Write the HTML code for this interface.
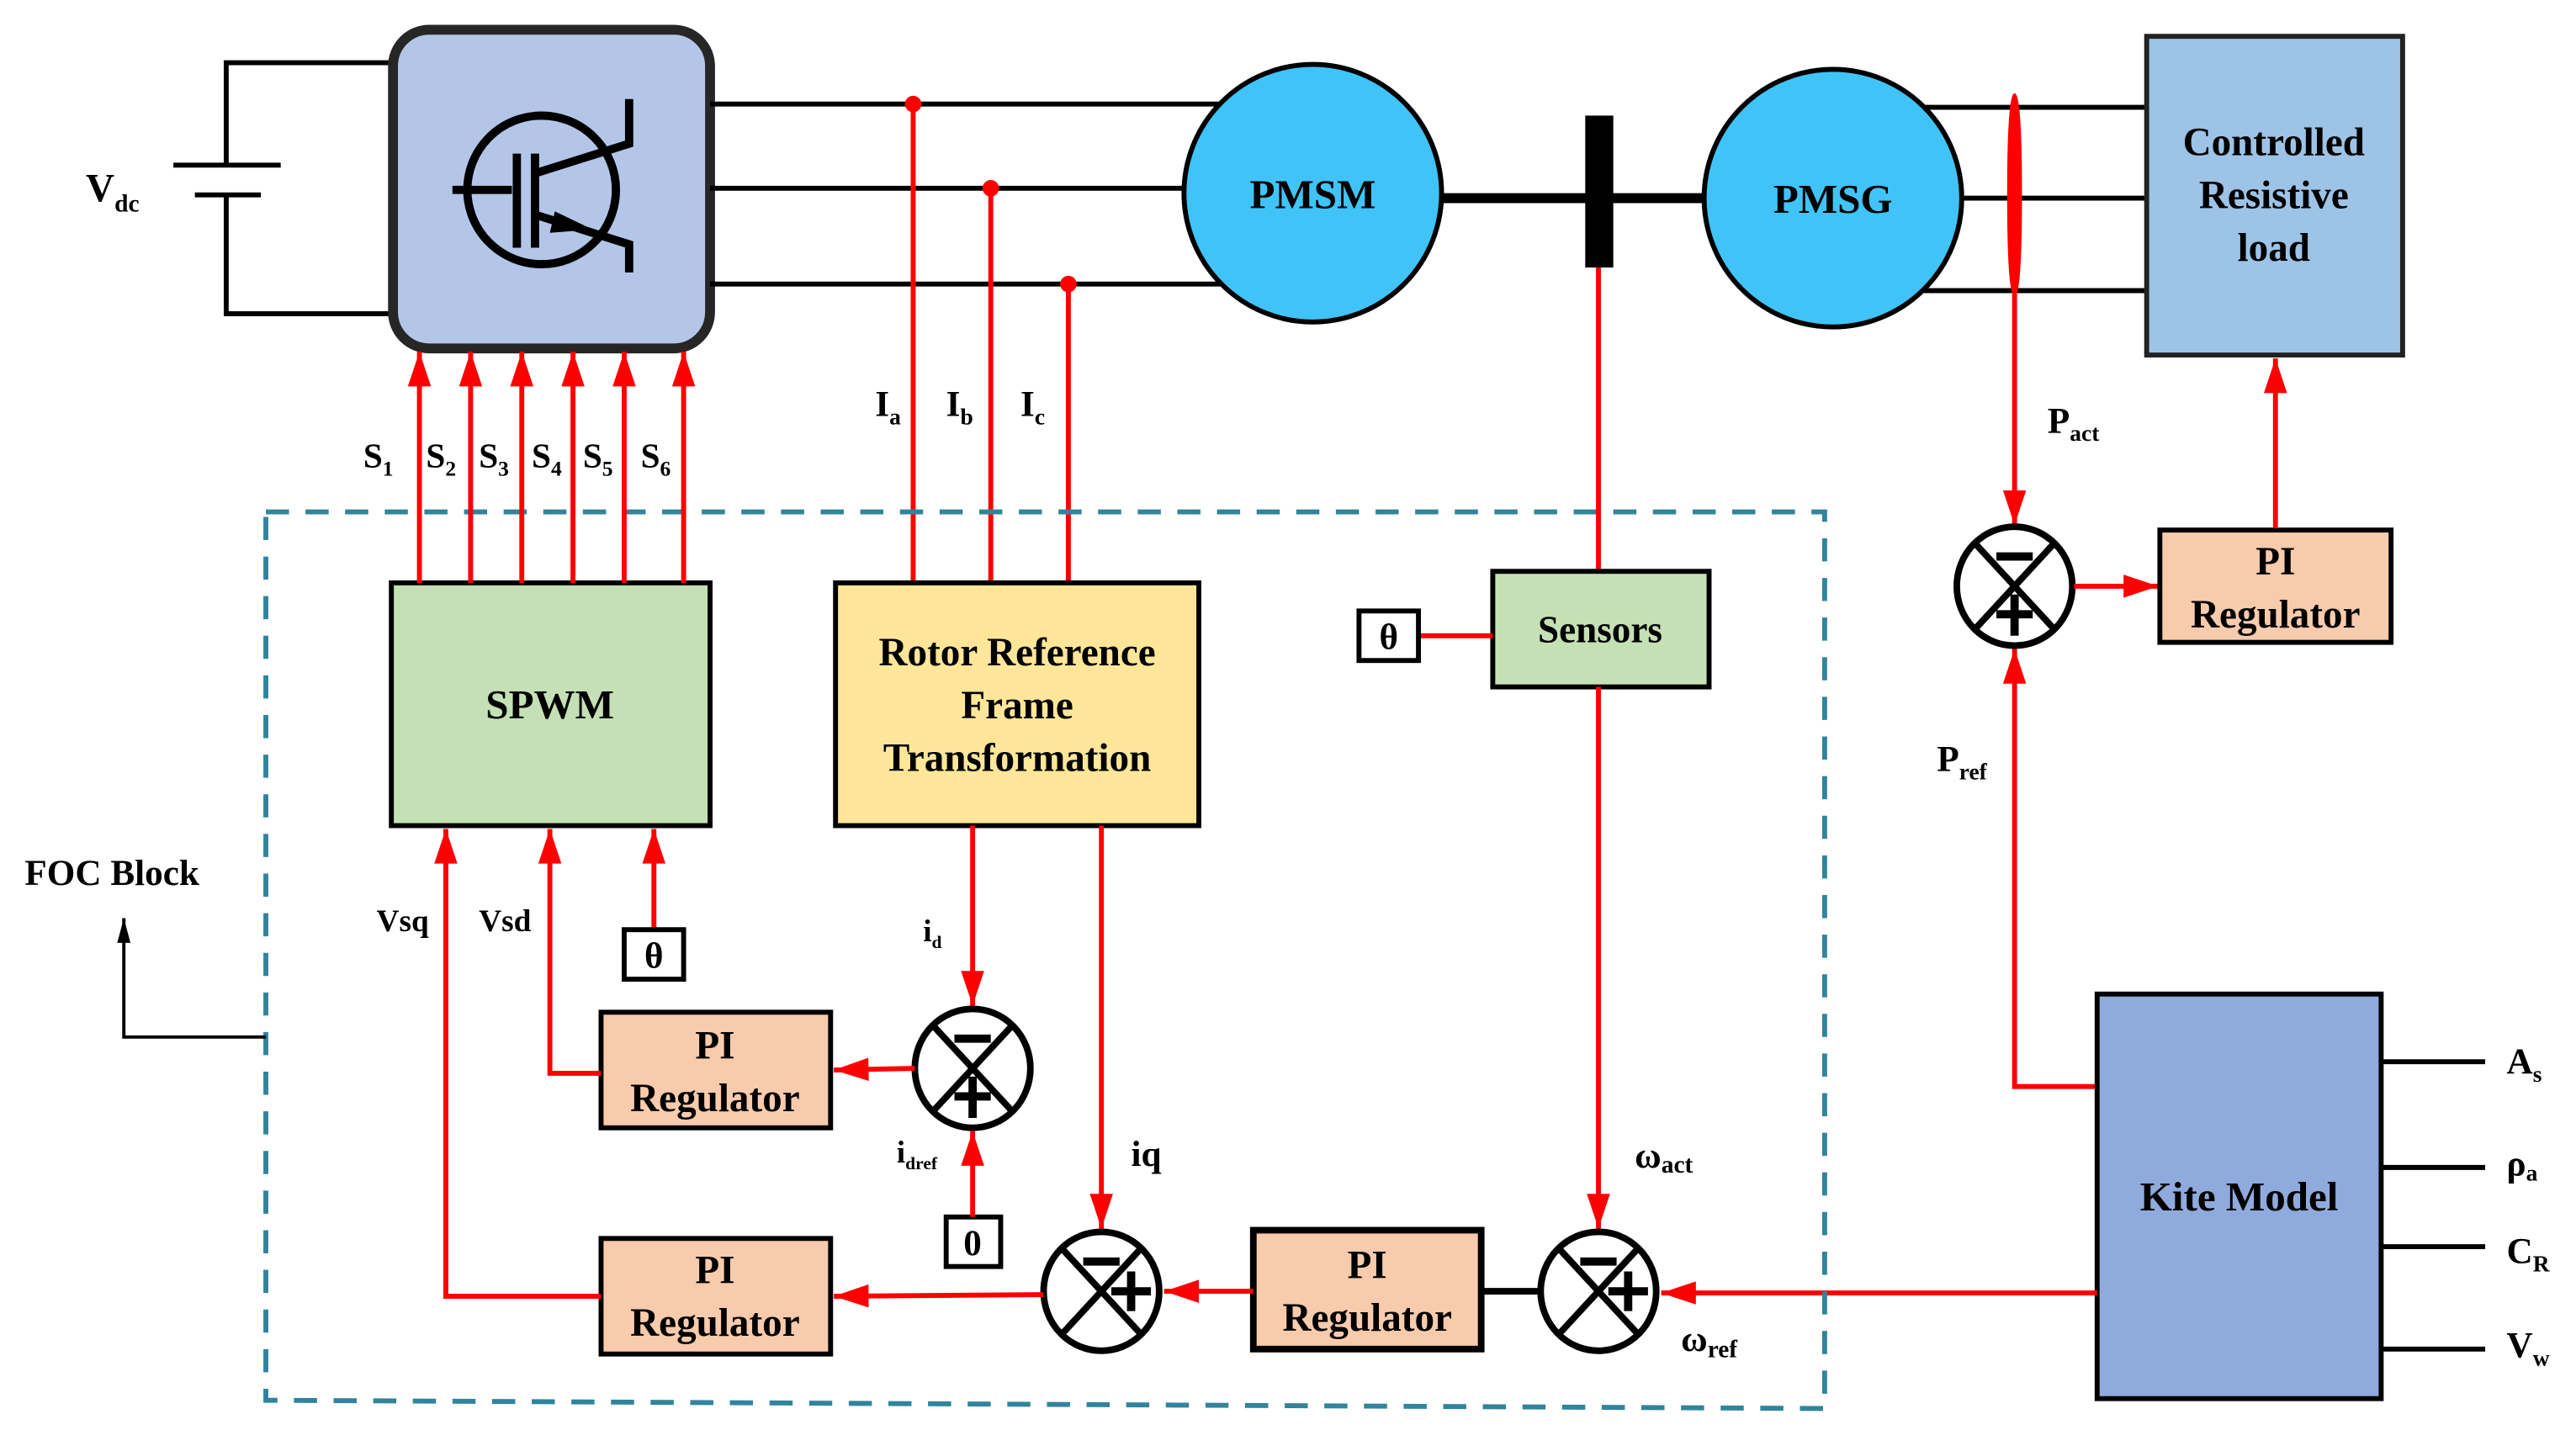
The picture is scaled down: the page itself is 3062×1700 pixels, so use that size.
<!DOCTYPE html>
<html><head><meta charset="utf-8"><style>
html,body{margin:0;padding:0;background:#fff;}
svg{display:block;}
text{font-family:"Liberation Serif",serif;font-weight:bold;fill:#000;}
</style></head><body>
<svg width="3062" height="1700" viewBox="0 0 1560 866" preserveAspectRatio="none" xmlns="http://www.w3.org/2000/svg">
<defs>
<marker id="a" markerWidth="8" markerHeight="8" refX="7" refY="4" orient="auto" markerUnits="userSpaceOnUse" viewBox="0 0 8 8" style="overflow:visible">
<path d="M-14,-3 L7,4 L-14,11 Z" fill="#f00"/>
</marker>
<marker id="k" markerWidth="8" markerHeight="8" refX="7" refY="4" orient="auto" markerUnits="userSpaceOnUse" viewBox="0 0 8 8" style="overflow:visible">
<path d="M-8,0 L7,4 L-8,8 Z" fill="#000"/>
</marker>
<g id="sumR">
<ellipse cx="0" cy="0" rx="35" ry="36" fill="#fff" stroke="#000" stroke-width="4"/>
<line x1="-24" y1="-26" x2="24" y2="26" stroke="#000" stroke-width="4"/>
<line x1="24" y1="-26" x2="-24" y2="26" stroke="#000" stroke-width="4"/>
<line x1="-11" y1="-18" x2="11" y2="-18" stroke="#000" stroke-width="5"/>
<line x1="6" y1="0" x2="30" y2="0" stroke="#000" stroke-width="5"/>
<line x1="18" y1="-12" x2="18" y2="12" stroke="#000" stroke-width="5"/>
</g>
<g id="sumB">
<ellipse cx="0" cy="0" rx="35" ry="36" fill="#fff" stroke="#000" stroke-width="4"/>
<line x1="-24" y1="-26" x2="24" y2="26" stroke="#000" stroke-width="4"/>
<line x1="24" y1="-26" x2="-24" y2="26" stroke="#000" stroke-width="4"/>
<line x1="-11" y1="-18" x2="11" y2="-18" stroke="#000" stroke-width="5"/>
<line x1="-11" y1="17" x2="11" y2="17" stroke="#000" stroke-width="5"/>
<line x1="0" y1="5" x2="0" y2="30" stroke="#000" stroke-width="5"/>
</g>
</defs>

<g stroke="#000" stroke-width="3" fill="none">
<polyline points="238,38 137,38 137,100"/>
<polyline points="238,190 137,190 137,118"/>
<line x1="105" y1="100" x2="170" y2="100"/>
<line x1="118" y1="118" x2="158" y2="118"/>
</g>
<text x="52" y="122" font-size="24">V<tspan font-size="15" dy="6">dc</tspan></text>

<rect x="238" y="18" width="192" height="193" rx="22" fill="#b4c6e7" stroke="#262626" stroke-width="6"/>
<g stroke="#000" stroke-width="5" fill="none">
<circle cx="328" cy="115" r="45"/>
<line x1="274" y1="115" x2="310" y2="115"/>
<line x1="313" y1="93" x2="313" y2="150"/>
<line x1="324" y1="93" x2="324" y2="150"/>
<polyline points="324,105 381,87 381,60"/>
<polyline points="324,130 381,148 381,165"/>
</g>
<path d="M336,128 L359,139 L333,141 Z" fill="#000"/>

<g stroke="#000" stroke-width="3">
<line x1="430" y1="63" x2="740" y2="63"/>
<line x1="430" y1="114" x2="718" y2="114"/>
<line x1="430" y1="172" x2="740" y2="172"/>
<line x1="1165" y1="65" x2="1300" y2="65"/>
<line x1="1185" y1="120" x2="1300" y2="120"/>
<line x1="1165" y1="176" x2="1300" y2="176"/>
</g>
<line x1="872" y1="120" x2="1035" y2="120" stroke="#000" stroke-width="6"/>
<rect x="960" y="70" width="17" height="92" fill="#000"/>
<circle cx="795" cy="117" r="78" fill="#40c4f8" stroke="#000" stroke-width="3"/>
<text x="795" y="126" font-size="25" text-anchor="middle">PMSM</text>
<circle cx="1110" cy="120" r="78" fill="#40c4f8" stroke="#000" stroke-width="3"/>
<text x="1110" y="129" font-size="25" text-anchor="middle">PMSG</text>

<rect x="1300" y="22" width="155" height="193" fill="#9dc3e6" stroke="#222" stroke-width="3"/>
<text x="1377" y="94" font-size="24" text-anchor="middle">Controlled</text>
<text x="1377" y="126" font-size="24" text-anchor="middle">Resistive</text>
<text x="1377" y="158" font-size="24" text-anchor="middle">load</text>

<g stroke="#f00" stroke-width="3">
<line x1="553" y1="63" x2="553" y2="353"/>
<line x1="600" y1="114" x2="600" y2="353"/>
<line x1="647" y1="172" x2="647" y2="353"/>
</g>
<circle cx="553" cy="63" r="5" fill="#f00"/>
<circle cx="600" cy="114" r="5" fill="#f00"/>
<circle cx="647" cy="172" r="5" fill="#f00"/>
<text x="530" y="252" font-size="22">I<tspan font-size="14" dy="5">a</tspan></text>
<text x="573" y="252" font-size="22">I<tspan font-size="14" dy="5">b</tspan></text>
<text x="618" y="252" font-size="22">I<tspan font-size="14" dy="5">c</tspan></text>

<ellipse cx="1220" cy="118" rx="3" ry="60" fill="#f00" stroke="#f00" stroke-width="3"/>
<line x1="1220" y1="178" x2="1220" y2="318" stroke="#f00" stroke-width="3" marker-end="url(#a)"/>
<text x="1240" y="262" font-size="22">P<tspan font-size="14" dy="5">act</tspan></text>
<use href="#sumB" x="1220" y="355"/>
<line x1="1256" y1="355" x2="1307" y2="355" stroke="#f00" stroke-width="3" marker-end="url(#a)"/>
<rect x="1308" y="321" width="140" height="68" fill="#f8cbad" stroke="#000" stroke-width="3"/>
<text x="1378" y="348" font-size="24" text-anchor="middle">PI</text>
<text x="1378" y="380" font-size="24" text-anchor="middle">Regulator</text>
<line x1="1378" y1="320" x2="1378" y2="217" stroke="#f00" stroke-width="3" marker-end="url(#a)"/>
<text x="1173" y="467" font-size="22">P<tspan font-size="14" dy="5">ref</tspan></text>
<polyline points="1270,658 1220,658 1220,393" fill="none" stroke="#f00" stroke-width="3" marker-end="url(#a)"/>

<rect x="1270" y="602" width="172" height="245" fill="#8faadc" stroke="#000" stroke-width="3"/>
<text x="1356" y="733" font-size="25" text-anchor="middle">Kite Model</text>
<g stroke="#000" stroke-width="3">
<line x1="1442" y1="643" x2="1505" y2="643"/>
<line x1="1442" y1="707" x2="1505" y2="707"/>
<line x1="1442" y1="755" x2="1505" y2="755"/>
<line x1="1442" y1="817" x2="1505" y2="817"/>
</g>
<text x="1518" y="650" font-size="22">A<tspan font-size="14" dy="5">s</tspan></text>
<text x="1518" y="712" font-size="22">ρ<tspan font-size="14" dy="3">a</tspan></text>
<text x="1518" y="765" font-size="22">C<tspan font-size="14" dy="5">R</tspan></text>
<text x="1518" y="822" font-size="22">V<tspan font-size="14" dy="5">w</tspan></text>
<line x1="1270" y1="783" x2="1006" y2="783" stroke="#f00" stroke-width="3" marker-end="url(#a)"/>

<path d="M161,310 L1105,310 L1105,853 L161,848 Z" fill="none" stroke="#31849b" stroke-width="3" stroke-dasharray="14,10"/>
<text x="15" y="536" font-size="22">FOC Block</text>
<polyline points="161,628 75,628 75,556" fill="none" stroke="#000" stroke-width="2" marker-end="url(#k)"/>

<rect x="237" y="353" width="193" height="147" fill="#c5e0b4" stroke="#000" stroke-width="3"/>
<text x="333" y="435" font-size="25" text-anchor="middle">SPWM</text>
<g stroke="#f00" stroke-width="3">
<line x1="254" y1="353" x2="254" y2="213" marker-end="url(#a)"/>
<line x1="285" y1="353" x2="285" y2="213" marker-end="url(#a)"/>
<line x1="316" y1="353" x2="316" y2="213" marker-end="url(#a)"/>
<line x1="347" y1="353" x2="347" y2="213" marker-end="url(#a)"/>
<line x1="378" y1="353" x2="378" y2="213" marker-end="url(#a)"/>
<line x1="414" y1="353" x2="414" y2="213" marker-end="url(#a)"/>
</g>
<g font-size="21">
<text x="220" y="283">S<tspan font-size="13" dy="5">1</tspan></text>
<text x="258" y="283">S<tspan font-size="13" dy="5">2</tspan></text>
<text x="290" y="283">S<tspan font-size="13" dy="5">3</tspan></text>
<text x="322" y="283">S<tspan font-size="13" dy="5">4</tspan></text>
<text x="353" y="283">S<tspan font-size="13" dy="5">5</tspan></text>
<text x="388" y="283">S<tspan font-size="13" dy="5">6</tspan></text>
</g>

<rect x="506" y="353" width="220" height="147" fill="#ffe699" stroke="#000" stroke-width="3"/>
<text x="616" y="403" font-size="24" text-anchor="middle">Rotor Reference</text>
<text x="616" y="435" font-size="24" text-anchor="middle">Frame</text>
<text x="616" y="467" font-size="24" text-anchor="middle">Transformation</text>

<line x1="968" y1="162" x2="968" y2="346" stroke="#f00" stroke-width="3"/>
<rect x="904" y="346" width="131" height="70" fill="#c5e0b4" stroke="#000" stroke-width="3"/>
<text x="969" y="389" font-size="23" text-anchor="middle">Sensors</text>
<line x1="859" y1="385" x2="904" y2="385" stroke="#f00" stroke-width="3"/>
<rect x="823" y="370" width="36" height="30" fill="#fff" stroke="#000" stroke-width="3"/>
<text x="841" y="393" font-size="22" text-anchor="middle">θ</text>
<line x1="968" y1="416" x2="968" y2="744" stroke="#f00" stroke-width="3" marker-end="url(#a)"/>
<use href="#sumR" x="968" y="782"/>
<text x="990" y="707" font-size="22">ω<tspan font-size="15" dy="3">act</tspan></text>
<text x="1018" y="818" font-size="22">ω<tspan font-size="15" dy="4">ref</tspan></text>
<line x1="897" y1="782" x2="933" y2="782" stroke="#000" stroke-width="4"/>

<rect x="759" y="745" width="138" height="72" fill="#f8cbad" stroke="#000" stroke-width="4"/>
<text x="828" y="774" font-size="24" text-anchor="middle">PI</text>
<text x="828" y="806" font-size="24" text-anchor="middle">Regulator</text>
<line x1="759" y1="782" x2="705" y2="782" stroke="#f00" stroke-width="3" marker-end="url(#a)"/>

<line x1="667" y1="500" x2="667" y2="744" stroke="#f00" stroke-width="3" marker-end="url(#a)"/>
<use href="#sumR" x="667" y="782"/>
<text x="685" y="706" font-size="22">iq</text>
<line x1="632" y1="784" x2="505" y2="785" stroke="#f00" stroke-width="3" marker-end="url(#a)"/>
<rect x="364" y="750" width="139" height="70" fill="#f8cbad" stroke="#000" stroke-width="3"/>
<text x="433" y="777" font-size="24" text-anchor="middle">PI</text>
<text x="433" y="809" font-size="24" text-anchor="middle">Regulator</text>
<polyline points="364,785 270,785 270,502" fill="none" stroke="#f00" stroke-width="3" marker-end="url(#a)"/>
<text x="228" y="564" font-size="19">Vsq</text>

<line x1="589" y1="500" x2="589" y2="609" stroke="#f00" stroke-width="3" marker-end="url(#a)"/>
<use href="#sumB" x="589" y="647"/>
<text x="559" y="570" font-size="19">i<tspan font-size="11" dy="4">d</tspan></text>
<text x="543" y="704" font-size="19">i<tspan font-size="11" dy="4">dref</tspan></text>
<rect x="573" y="737" width="33" height="30" fill="#fff" stroke="#000" stroke-width="3"/>
<text x="589" y="760" font-size="22" text-anchor="middle">0</text>
<line x1="589" y1="737" x2="589" y2="685" stroke="#f00" stroke-width="3" marker-end="url(#a)"/>
<line x1="554" y1="647" x2="505" y2="648" stroke="#f00" stroke-width="3" marker-end="url(#a)"/>
<rect x="364" y="613" width="139" height="70" fill="#f8cbad" stroke="#000" stroke-width="3"/>
<text x="433" y="641" font-size="24" text-anchor="middle">PI</text>
<text x="433" y="673" font-size="24" text-anchor="middle">Regulator</text>
<polyline points="364,650 333,650 333,502" fill="none" stroke="#f00" stroke-width="3" marker-end="url(#a)"/>
<text x="290" y="564" font-size="19">Vsd</text>

<line x1="396" y1="563" x2="396" y2="502" stroke="#f00" stroke-width="3" marker-end="url(#a)"/>
<rect x="378" y="563" width="36" height="30" fill="#fff" stroke="#000" stroke-width="3"/>
<text x="396" y="586" font-size="22" text-anchor="middle">θ</text>
</svg>
</body></html>
